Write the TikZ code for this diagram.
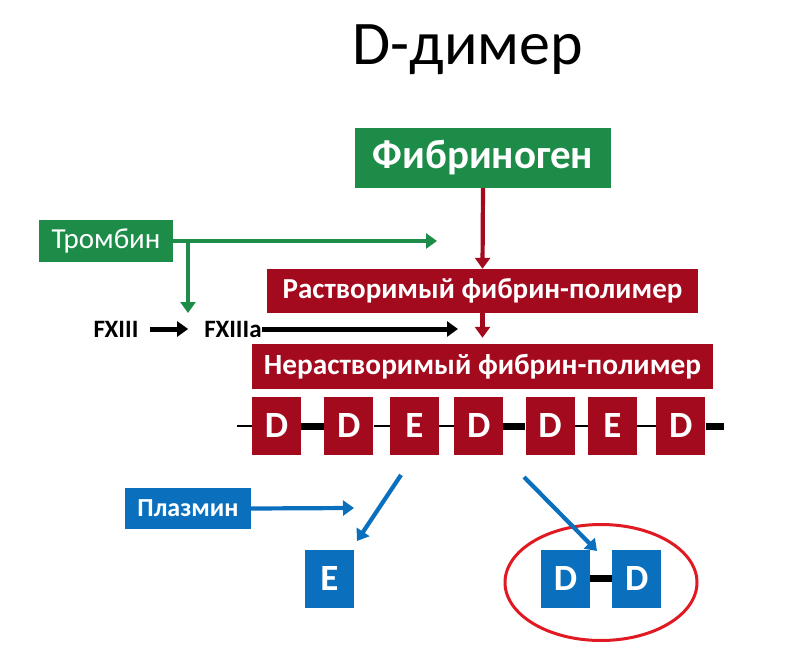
\documentclass[tikz,border=0pt]{standalone}
\usepackage{fontspec}
\setmainfont{Carlito}
\usetikzlibrary{positioning,arrows.meta}
\definecolor{grnclr}{RGB}{28,140,72}
\definecolor{redclr}{RGB}{164,10,30}
\definecolor{bluclr}{RGB}{10,112,190}
\definecolor{ringclr}{RGB}{225,25,35}
\tikzset{ %
  ,>={Triangle[length=11pt,width=15pt]}
  ,every node/.style={inner sep=0}
  ,grnbox/.style={fill=grnclr, text=white}
  ,redbox/.style={fill=redclr, text=white}
  ,blubox/.style={fill=bluclr, text=white}
  ,unit/.style={minimum width=49pt, minimum height=58pt, font=\bfseries\fontsize{37}{37}\selectfont}
  ,link/.style={line width=4.2pt, ->}
  ,thinbar/.style={line width=2.5pt}
  ,thickbar/.style={line width=7pt}
}

\begin{document}
\begin{tikzpicture}[x=1pt, y=-1pt]
      \useasboundingbox (0,0) rectangle (807,666);
      \node[font=\fontsize{62}{62}\selectfont] (title) at (468,50) {D-димер};
      \draw
      node[grnbox, minimum width=256pt, minimum height=60pt, font=\bfseries\fontsize{41}{41}\selectfont] (fbg) at (483,158) {Фибриноген\hspace{20pt}}
      node[grnbox, minimum width=134pt, minimum height=42pt, font=\fontsize{29}{29}\selectfont] (thr) at (106,241) {Тромбин}
      node[redbox, minimum width=431pt, minimum height=44pt, font=\bfseries\fontsize{29}{29}\selectfont] (sol) at (482.5,291) {Растворимый фибрин-полимер}
      node[redbox, minimum width=461pt, minimum height=45pt, font=\bfseries\fontsize{29.3}{29.3}\selectfont] (ins) at (482.5,366.5) {Нерастворимый фибрин-полимер}
      node[font=\bfseries\fontsize{25}{25}\selectfont] (fx1) at (116,329) {FXIII}
      node[font=\bfseries\fontsize{25}{25}\selectfont] (fx2) at (233,329) {FXIIIa}
      node[blubox, minimum width=126pt, minimum height=41pt, font=\bfseries\fontsize{26}{26}\selectfont] (pls) at (188,508.5) {Плазмин};

      % chain of D and E domains
      \draw
      node[redbox, unit] (d1) at (276.5,426) {D}
      node[redbox, unit, right=23pt of d1] (d2) {D}
      node[redbox, unit, right=16pt of d2] (e1) {E}
      node[redbox, unit, right=15pt of e1] (d3) {D}
      node[redbox, unit, right=22pt of d3] (d4) {D}
      node[redbox, unit, right=13pt of d4] (e2) {E}
      node[redbox, unit, right=19pt of e2] (d5) {D};
      \coordinate (chl) at (237,426);
      \coordinate (chr) at (724,426);
      \draw [thinbar] (chl) -- (d1.west) (d2.east) -- (e1.west) (e1.east) -- (d3.west)
        (d4.east) -- (e2.west) (e2.east) -- (d5.west);
      \draw [thickbar] (d1.east) -- (d2.west) (d3.east) -- (d4.west) (d5.east) -- (chr);

      % fragments
      \draw
      node[blubox, unit] (fe) at (329.5,578.5) {E}
      node[blubox, unit] (fd1) at (565.5,578.5) {D}
      node[blubox, unit, right=22pt of fd1] (fd2) {D};
      \draw [thickbar] (fd1.east) -- (fd2.west);
      \draw [ringclr, line width=3pt] (601,582.5) ellipse [x radius=96, y radius=58];

      % arrows
      \coordinate (thrjn) at (188,241);
      \coordinate (thrtip) at (437,241);
      \coordinate (thrdrop) at (188,313);
      \coordinate (fxtip) at (458,329);
      \coordinate (plstip) at (354,508);
      \coordinate (cutl) at (401,475);
      \coordinate (cutr) at (524,477);
      \coordinate (fetip) at (357,541);
      \coordinate (fdtip) at (597,551);
      \draw [grnclr] (thr.east) edge[link] (thrtip) (thrjn) edge[link] (thrdrop);
      \draw [redclr] (fbg.south) edge[link] (sol.north) (sol.south) edge[link, shorten >=6pt] (ins.north);
      \draw (fx1.east) edge[link, line width=5pt, shorten <=11pt, shorten >=16pt] (fx2.west)
        (fx2.east) edge[link, line width=5pt] (fxtip);
      \draw [bluclr] (pls.east) edge[link] (plstip) (cutl) edge[link] (fetip) (cutr) edge[link] (fdtip);
    \end{tikzpicture}
\end{document}
